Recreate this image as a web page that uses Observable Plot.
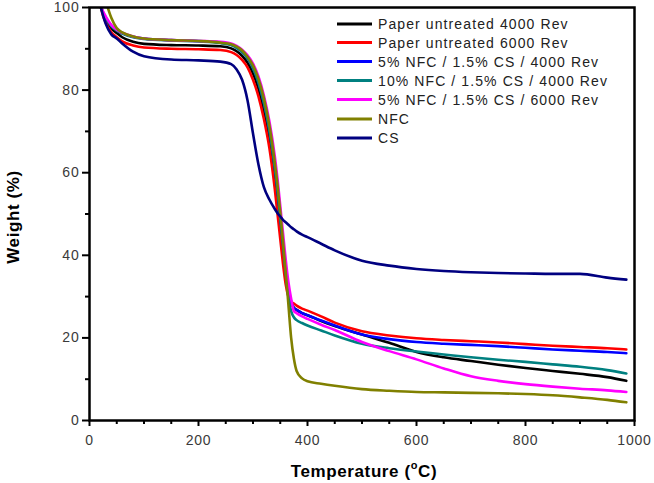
<!DOCTYPE html>
<html>
<head>
<meta charset="utf-8">
<script src="https://cdn.jsdelivr.net/npm/d3@7"></script>
<script src="https://cdn.jsdelivr.net/npm/@observablehq/plot@0.6"></script>
<style>
  html, body { margin: 0; padding: 0; background: #fff; }
  svg text { font-family: "Liberation Sans", Arial, sans-serif; }
  g[aria-label="x-axis tick label"] text, g[aria-label="y-axis tick label"] text { letter-spacing: 0.8px; }
</style>
</head>
<body>
<div id="chart"></div>
<script>
const temps = [20,25,30,40,50,60,80,100,150,200,240,260,270,280,290,300,310,320,330,340,345,350,355,360,365,370,375,380,390,400,425,450,500,550,600,650,700,750,800,850,900,950,985];

const paper4000 = [100.5,98.5,97,95,93.8,92.8,91.7,91.2,90.9,90.8,
  90.6,90.1,89.4,88.3,86.6,84,80.3,75,68.5,59,
  53.5,47,41,35.5,31,28.5,27.3,26.8,26,25.5,
  24.1,22.9,20.8,18.8,16.6,15.3,14.4,13.5,12.7,12.0,
  11.3,10.5,9.6];
const paper6000 = [100.5,98,96.3,94,92.8,91.8,90.8,90.3,90,89.9,
  89.7,89.2,88.5,87.3,85.5,82.5,78.5,73,66,56,
  50,44,38,33,30,28.8,28.3,27.8,27.1,26.6,
  25.2,23.7,21.6,20.6,19.9,19.5,19.2,18.9,18.5,18.1,
  17.8,17.5,17.2];
const nfc5cs4000 = [100.5,98.8,97.5,95.6,94.5,93.8,92.9,92.5,92.1,91.9,
  91.5,91.0,90.3,89.3,87.8,85.5,82,77,70.5,61.5,
  56,49.5,43,37,32,28.8,27.2,26.8,26,25.5,
  24.2,23,20.8,19.7,19.0,18.6,18.3,18,17.6,17.2,
  16.9,16.6,16.3];
const nfc10cs4000 = [100.5,98.7,97.4,95.5,94.4,93.7,92.8,92.4,92.0,91.8,
  91.4,90.9,90.2,89.2,87.7,85.3,81.8,76.8,70.2,61,
  55.5,49,42.5,35.5,30,26.5,25,24.3,23.6,23,
  21.8,20.6,18.6,17.5,16.7,16,15.3,14.7,14.2,13.6,
  13,12.2,11.4];
const nfc5cs6000 = [100.5,99,97.8,95.8,94.6,93.9,93,92.5,92.1,91.9,
  91.7,91.3,90.7,89.8,88.4,86.4,83.3,78.7,72.5,64,
  58.5,52,45.5,39,33.5,29.5,26.5,26,25.2,24.6,
  23.2,21.9,19.0,16.8,14.8,12.6,10.7,9.6,8.8,8.2,
  7.7,7.3,6.9];
const nfc = [null,null,101.5,97.5,95,94,93,92.5,92.1,91.9,
  91.5,91.1,90.5,89.6,88.1,86,82.7,78,71.5,62.5,
  57,50.5,43.5,36,28,20,15,12,10.2,9.5,
  8.9,8.4,7.6,7.2,6.9,6.8,6.7,6.6,6.4,6.1,
  5.6,5.0,4.4];
const cs = [100.5,98,96,93.5,92.5,91.3,89.3,88.2,87.4,87.2,
  86.9,86.3,85,82.5,77.5,69.5,62,56.5,53.5,51.2,
  50.2,49.4,48.6,48,47.4,46.8,46.3,45.8,45,44.4,
  42.8,41.2,38.7,37.5,36.7,36.2,35.9,35.7,35.6,35.5,
  35.5,34.6,34.1];

const seriesNames = ["Paper untreated 4000 Rev","Paper untreated 6000 Rev","5% NFC / 1.5% CS / 4000 Rev","10% NFC / 1.5% CS / 4000 Rev","5% NFC / 1.5% CS / 6000 Rev","NFC","CS"];
const seriesValues = [paper4000, paper6000, nfc5cs4000, nfc10cs4000, nfc5cs6000, nfc, cs];
const seriesColors = ["#000000","#ff0000","#0000ff","#008080","#ff00ff","#808000","#000080"];

const xMajor = [0,200,400,600,800,1000];
const xMinor = d3.range(50, 1000, 50).filter(v => v % 200 !== 0);
const yMajor = [0,20,40,60,80,100];
const yMinor = [10,30,50,70,90];

const rows = [];
seriesNames.forEach((name, i) => {
  temps.forEach((t, j) => rows.push({series: name, T: t, W: seriesValues[i][j]}));
});

const lineMarks = seriesNames.map((name, i) =>
  Plot.line(rows.filter(r => r.series === name), {
    x: "T", y: "W", stroke: seriesColors[i], strokeWidth: 2.6,
    curve: "monotone-x", clip: true, defined: d => d.W != null
  })
);

const chart = Plot.plot({
  width: 654,
  height: 483,
  marginLeft: 89,
  marginRight: 20,
  marginTop: 7,
  marginBottom: 63,
  style: {fontSize: "14px", background: "#fff", color: "#000"},
  x: {domain: [0, 1000]},
  y: {domain: [0, 100]},
  marks: [
    ...lineMarks,
    Plot.axisX({ticks: xMajor, tickFormat: d => String(d), tickSize: 6, tickPadding: 9, label: null, stroke: "#000", strokeWidth: 2, fill: "#3a3a3a", fontSize: 14}),
    Plot.axisX({ticks: xMinor, tickSize: 4, text: null, label: null, stroke: "#000", strokeWidth: 2}),
    Plot.axisY({ticks: yMajor, tickFormat: d => String(d), tickSize: 7, tickPadding: 3, label: null, stroke: "#000", strokeWidth: 2, fill: "#3a3a3a", fontSize: 14}),
    Plot.axisY({ticks: yMinor, tickSize: 4, text: null, label: null, stroke: "#000", strokeWidth: 2}),
    Plot.frame({stroke: "#000", strokeWidth: 2.5})
  ]
});

document.getElementById("chart").appendChild(chart);

const svg = d3.select(chart);
// Legend
const legendRows = [24, 42.5, 61.5, 80.5, 99.5, 119, 138];
const leg = svg.append("g").attr("class", "legend").attr("text-anchor", "start");
seriesNames.forEach((name, i) => {
  leg.append("line")
    .attr("x1", 337).attr("x2", 372)
    .attr("y1", legendRows[i]).attr("y2", legendRows[i])
    .attr("stroke", seriesColors[i]).attr("stroke-width", 3);
  leg.append("text")
    .attr("x", 378).attr("y", legendRows[i])
    .attr("dy", "0.36em")
    .attr("text-anchor", "start")
    .attr("font-size", 14)
    .attr("letter-spacing", "1.1px")
    .attr("fill", "#222")
    .text(name);
});

// Axis titles
svg.append("text")
  .attr("transform", "translate(19,217) rotate(-90)")
  .attr("text-anchor", "middle")
  .attr("font-size", 17)
  .attr("font-weight", "bold")
  .attr("letter-spacing", "0.6px")
  .attr("fill", "#000")
  .text("Weight (%)");

const xt = svg.append("text")
  .attr("x", 364).attr("y", 477)
  .attr("text-anchor", "middle")
  .attr("font-size", 17)
  .attr("font-weight", "bold")
  .attr("letter-spacing", "0.6px")
  .attr("fill", "#000");
xt.append("tspan").text("Temperature (");
xt.append("tspan").attr("font-size", 11).attr("dy", -8).text("o");
xt.append("tspan").attr("dy", 8).text("C)");
</script>
</body>
</html>
